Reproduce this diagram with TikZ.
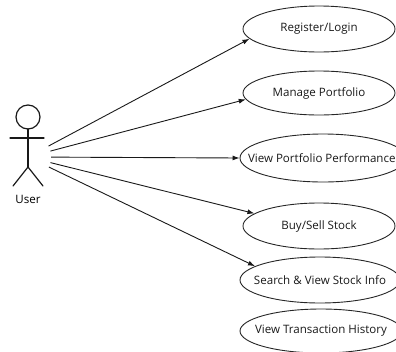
\documentclass[tikz,border=0pt]{standalone}
\usepackage{fontspec}
\setmainfont{Open Sans}
\usetikzlibrary{positioning}
\usetikzlibrary{arrows, arrows.meta, shapes}

\newcommand{\uctext}[1]{\makebox[0pt]{#1}}

\begin{document}
\begin{tikzpicture}[x=1bp, y=-1bp, >={Latex[length=7bp, width=5bp]}, font=\fontsize{11.6}{14}\selectfont]%
            \tikzstyle{usecase} = [ ellipse, draw = black!85, line width = 0.9bp, minimum width = 152bp, minimum height = 46bp, inner sep = 0pt, text = black!90]
            \tikzstyle{stick} = [ draw = black!90, line width = 1.2bp, line cap = round]
            \tikzstyle{assoc} = [ ->, draw = black!90, line width = 0.9bp]
        %%
            \useasboundingbox (0,0) rectangle (396,352);
            \clip (0,0) rectangle (396,352);
            %% Actor
            \draw [stick] (28,117) circle (12bp);
            \draw [stick] (28,129) -- (28,167);
            \draw [stick] (10,138) -- (44,138);
            \draw [stick] (13,186) -- (28,167) -- (43,186);
            \node (user_lbl) at (28,199) {User};
            \node [circle, minimum size = 46bp, inner sep = 0pt] (user) at (28,157) {};

            %% Use cases
            \node [usecase] (reg) at (319,29) {\uctext{Register/Login}};
            \node [usecase, minimum height = 44bp] (manage) at (319,93) {\uctext{Manage Portfolio}};
            \node [usecase, minimum width = 166bp, minimum height = 48bp] (perf) at (323,158) {\makebox[0pt][l]{\hspace{-75bp}View Portfolio Performance}};
            \node [usecase] (buy) at (319,226) {\uctext{Buy/Sell Stock}};
            \node [usecase, minimum width = 160bp] (search) at (320,280) {\uctext{Search \& View Stock Info}};
            \node [usecase, minimum width = 162bp, minimum height = 44bp] (hist) at (321,331) {\uctext{View Transaction History}};

            \draw [assoc] (user) -- (reg.188);
            \draw [assoc] (user) -- (manage.185);
            \draw [assoc] (user) -- (perf.west);
            \draw [assoc] (user) -- (buy.169);
            \draw [assoc] (user) -- (search.168);
        \end{tikzpicture}
\end{document}
